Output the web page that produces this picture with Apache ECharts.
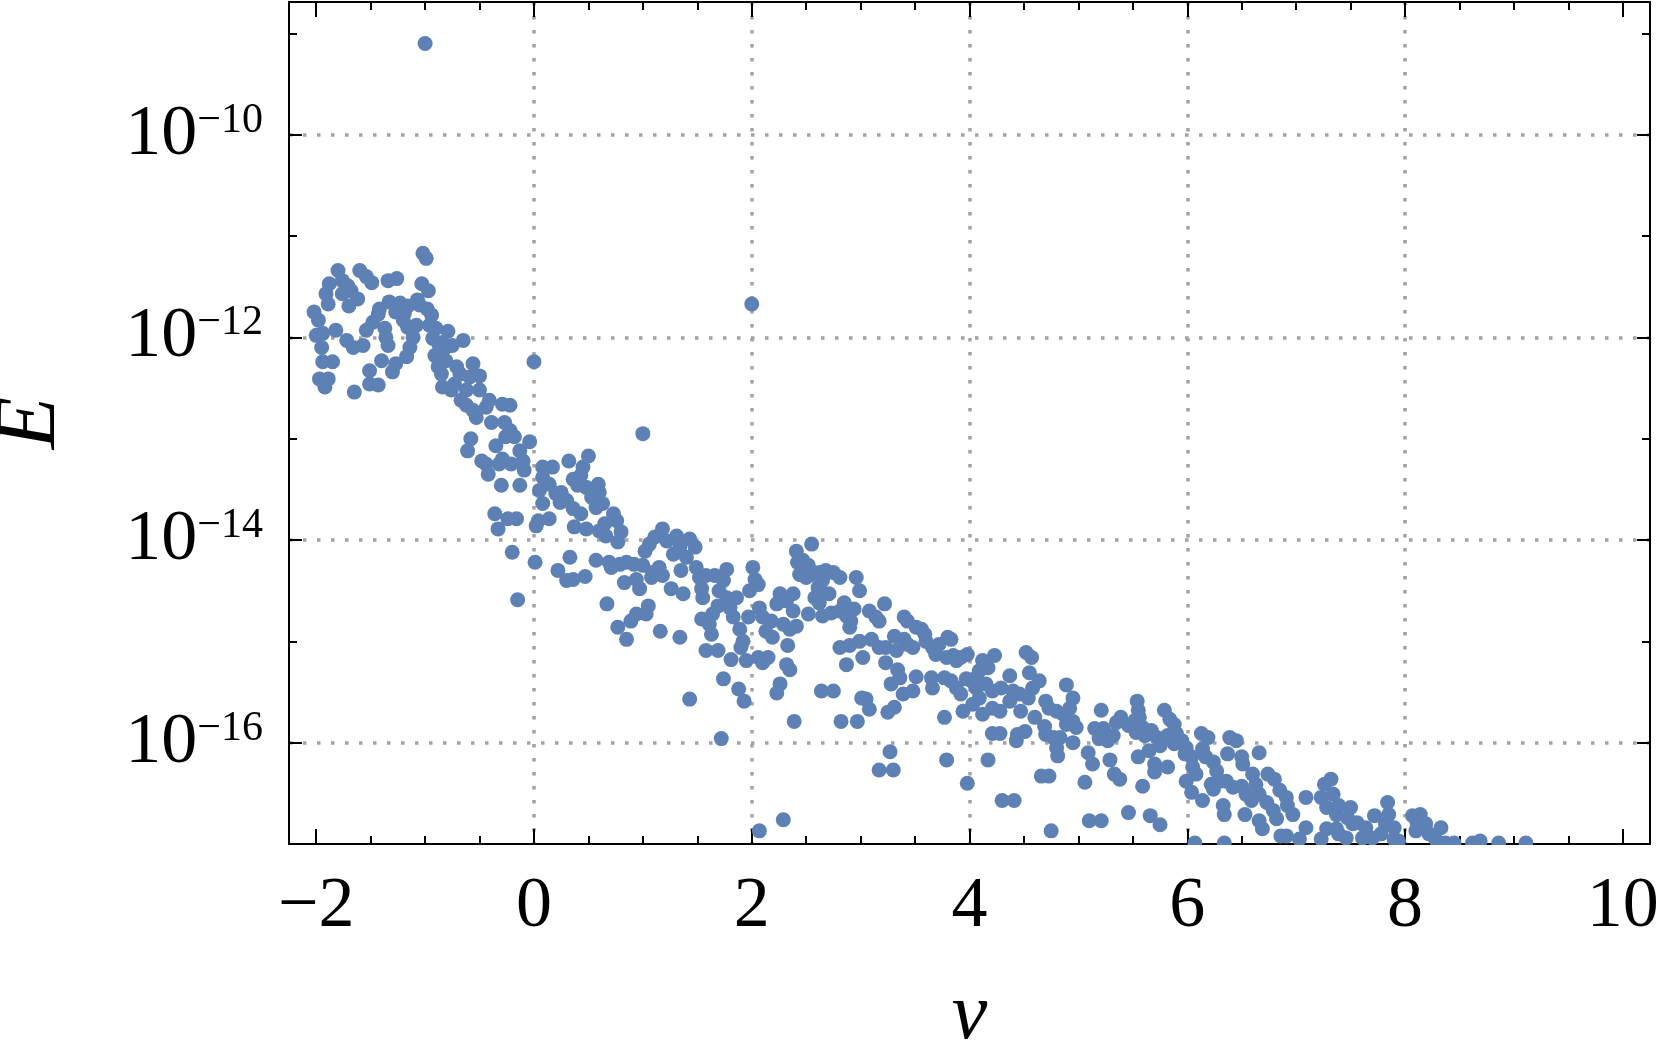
<!DOCTYPE html>
<html>
<head>
<meta charset="utf-8">
<script src="https://cdn.jsdelivr.net/npm/echarts@6/dist/echarts.min.js"></script>
<style>
html,body{margin:0;padding:0;background:#fff;}
#chart{width:1661px;height:1048px;}
</style>
</head>
<body>
<div id="chart"></div>
<script>
// Data: each point is [nu, log10(E)]
const clusterLeft = [
[-1.80,-11.34],[-1.88,-11.47],[-1.91,-11.57],[-1.89,-11.67],[-1.60,-11.34],[-1.54,-11.40],[-1.49,-11.46],[-1.76,-11.44],[-1.71,-11.49],[-1.68,-11.54],
[-1.76,-11.57],[-1.62,-11.62],[-1.70,-11.69],[-1.34,-11.44],[-1.26,-11.42],[-1.02,-11.17],[-0.99,-11.22],[-1.03,-11.47],[-0.97,-11.54],[-2.02,-11.75],
[-1.98,-11.83],[-2.00,-11.98],[-1.94,-11.96],[-1.95,-12.10],[-1.82,-11.93],[-1.72,-12.03],[-1.66,-12.10],[-1.57,-12.08],[-1.54,-11.93],[-1.48,-11.85],
[-1.43,-11.77],[-1.42,-11.72],[-1.33,-11.65],[-1.23,-11.66],[-1.16,-11.69],[-1.19,-11.76],[-1.27,-11.75],[-1.37,-11.91],[-1.36,-12.00],[-1.34,-12.08],
[-1.40,-12.23],[-1.20,-11.83],[-1.16,-11.90],[-1.08,-11.88],[-1.11,-12.00],[-1.14,-12.10],[-1.17,-12.19],[-1.27,-12.26],[-1.30,-12.34],[-1.07,-11.63],
[-1.05,-11.68],[-0.98,-11.72],[-0.94,-11.78],[-0.96,-11.88],[-0.90,-11.91],[-0.79,-11.94],[-1.94,-12.24],[-1.85,-12.24],[-1.97,-12.41],[-1.89,-12.41],
[-1.92,-12.49],[-1.51,-12.33],[-1.51,-12.46],[-1.43,-12.47],[-1.65,-12.54],[-0.93,-12.01],[-0.87,-12.08],[-0.84,-12.05],[-0.81,-12.10],[-0.75,-12.08],
[-0.65,-12.03],[-0.91,-12.18],[-0.87,-12.21],[-0.88,-12.29],[-0.85,-12.36],[-0.81,-12.23],[-0.71,-12.29],[-0.68,-12.36],[-0.56,-12.26],[-0.50,-12.38],
[-0.59,-12.39],[-0.84,-12.49],[-0.76,-12.52],[-0.73,-12.46],[-0.62,-12.52],[-0.50,-12.52],[-0.67,-12.62],[-0.62,-12.67],[-0.56,-12.72],[-0.53,-12.79],
[-0.44,-12.69],[-0.41,-12.62],[-0.39,-12.84],[-0.29,-12.66],[-0.22,-12.67],[-0.27,-12.84],[-0.22,-12.92],[-0.26,-12.98],[-0.18,-12.98],[-0.58,-13.00],
[-0.61,-13.12],[-0.48,-13.22],[-0.44,-13.25],[-0.42,-13.35],[-0.35,-13.07],[-0.32,-13.25],[-0.29,-13.20],[-0.21,-13.25],[-0.10,-13.22],[-0.13,-13.12],
[-0.04,-13.03],[-0.09,-13.31],[-0.30,-13.46],[-0.13,-13.46],[0.08,-13.28],[0.17,-13.28],[0.08,-13.38],[0.14,-13.45],[0.05,-13.51],[0.20,-13.54],
[0.08,-13.64],[-0.36,-13.74],[-0.24,-13.79],[-0.16,-13.79],[-0.33,-13.89],[0.04,-13.81],[0.02,-13.86],[0.14,-13.79],[0.00,-12.24]
];
const band0to2 = [
[0.50,-13.17],[0.32,-13.22],[0.45,-13.28],[0.43,-13.36],[0.36,-13.40],[0.40,-13.46],[0.48,-13.48],[0.59,-13.45],[0.60,-13.53],[0.53,-13.58],
[0.63,-13.64],[0.36,-13.69],[0.43,-13.74],[0.57,-13.68],[0.73,-13.74],[0.76,-13.81],[0.65,-13.84],[0.60,-13.91],[0.66,-13.96],[0.80,-13.92],
[0.77,-14.02],[0.48,-13.89],[0.37,-13.87],[0.25,-13.53],[0.30,-13.61],[0.24,-13.63],[0.01,-14.22],[-0.15,-14.59],[-0.20,-14.12],[0.22,-14.30],
[0.30,-14.40],[0.36,-14.39],[0.47,-14.36],[0.33,-14.17],[0.57,-14.20],[0.69,-14.22],[0.71,-14.27],[0.79,-14.24],[0.85,-14.22],[0.92,-14.24],
[1.00,-14.25],[0.83,-14.42],[0.94,-14.39],[0.97,-14.48],[1.08,-14.37],[1.09,-14.32],[1.15,-14.27],[1.18,-14.35],[1.02,-14.11],[1.06,-14.04],
[1.11,-13.97],[1.18,-13.89],[1.22,-14.01],[1.31,-13.96],[1.34,-14.07],[1.28,-14.14],[1.43,-13.99],[1.48,-14.07],[1.40,-14.17],[1.49,-14.27],
[1.35,-14.30],[1.26,-14.48],[1.37,-14.53],[1.52,-14.37],[1.58,-14.35],[1.66,-14.35],[1.77,-14.29],[1.74,-14.40],[1.70,-14.50],[1.54,-14.48],
[1.55,-14.57],[1.77,-14.57],[1.80,-14.67],[1.86,-14.57],[1.69,-14.65],[1.64,-14.73],[1.54,-14.78],[1.61,-14.83],[1.63,-14.93],[1.83,-14.76],
[1.97,-14.76],[1.89,-14.88],[1.92,-15.00],[1.90,-15.06],[2.01,-14.27],[2.03,-14.39],[2.06,-14.44],[1.98,-14.50],[2.07,-14.67],[2.10,-14.76],
[2.13,-14.90],[2.18,-14.80],[2.19,-14.96],[2.26,-14.53],[2.23,-14.63],[2.32,-14.60],[2.38,-14.53],[2.41,-14.11],[2.42,-14.22],[2.44,-14.34],
[2.38,-14.70],[2.29,-14.83],[2.35,-14.88],[2.41,-14.85],[2.33,-15.04],[2.32,-15.23],[2.35,-15.28],[2.26,-15.42],[2.23,-15.51],[2.39,-15.79],
[0.67,-14.63],[0.77,-14.86],[0.85,-14.98],[0.89,-14.80],[0.94,-14.73],[1.05,-14.65],[1.03,-14.73],[1.16,-14.90],[1.34,-14.96],[1.58,-15.09],
[1.69,-15.09],[1.81,-15.18],[1.95,-15.19],[2.06,-15.16],[2.10,-15.21],[2.15,-15.16],[1.74,-15.37],[1.88,-15.47],[1.93,-15.59],[1.43,-15.57],
[1.72,-15.96]
];
const band2to5 = [
[2.55,-14.04],[2.47,-14.20],[2.52,-14.25],[2.45,-14.34],[2.50,-14.37],[2.56,-14.34],[2.62,-14.32],[2.68,-14.30],[2.75,-14.32],[2.81,-14.37],
[2.65,-14.40],[2.61,-14.47],[2.58,-14.57],[2.62,-14.62],[2.71,-14.53],[2.96,-14.37],[2.99,-14.50],[2.52,-14.73],[2.65,-14.75],[2.73,-14.72],
[2.81,-14.70],[2.87,-14.75],[2.94,-14.68],[2.91,-14.80],[2.90,-14.86],[2.85,-14.62],[3.08,-14.70],[3.14,-14.76],[3.17,-14.80],[3.22,-14.63],
[3.40,-14.76],[3.43,-14.80],[2.81,-15.06],[2.90,-15.04],[2.99,-15.00],[3.10,-14.98],[3.17,-15.06],[3.23,-15.06],[3.02,-15.16],[2.87,-15.23],
[3.23,-15.21],[3.33,-15.09],[3.31,-14.95],[3.40,-14.98],[3.43,-15.03],[3.48,-15.06],[3.51,-14.86],[3.56,-14.88],[3.59,-14.93],[3.60,-15.00],
[3.66,-15.06],[3.72,-15.03],[3.80,-14.96],[3.83,-14.98],[3.69,-15.13],[3.79,-15.16],[3.85,-15.14],[3.88,-15.19],[3.92,-15.16],[3.98,-15.13],
[3.34,-15.28],[3.36,-15.36],[3.28,-15.42],[3.51,-15.35],[3.48,-15.49],[3.39,-15.52],[3.65,-15.36],[3.66,-15.46],[3.77,-15.36],[3.83,-15.39],
[3.88,-15.46],[3.92,-15.52],[3.97,-15.37],[4.02,-15.39],[4.06,-15.36],[4.12,-15.19],[4.23,-15.14],[4.17,-15.26],[4.09,-15.29],[4.52,-15.11],
[4.57,-15.16],[4.55,-15.31],[4.37,-15.34],[4.58,-15.46],[4.64,-15.39],[4.06,-15.46],[4.15,-15.42],[4.21,-15.49],[4.29,-15.46],[4.40,-15.49],
[4.46,-15.52],[4.54,-15.56],[4.09,-15.56],[4.03,-15.62],[3.94,-15.69],[4.12,-15.72],[4.21,-15.66],[4.28,-15.69],[4.37,-15.59],[4.47,-15.69],
[4.60,-15.75],[4.70,-15.59],[4.73,-15.66],[4.80,-15.69],[4.86,-15.72],[4.89,-15.43],[4.95,-15.56],[4.92,-15.66],[4.95,-15.79],[4.89,-15.82],
[4.98,-15.85],[4.69,-15.84],[4.70,-15.92],[4.77,-15.95],[4.83,-15.95],[4.80,-16.05],[4.81,-16.13],[4.95,-16.00],[4.21,-15.91],[4.28,-15.91],
[4.43,-15.98],[4.44,-15.92],[4.51,-15.89],[3.01,-15.56],[3.05,-15.57],[3.08,-15.67],[3.25,-15.70],[3.31,-15.65],[2.64,-15.49],[2.75,-15.49],
[2.82,-15.79],[2.97,-15.79],[3.77,-15.75],[3.27,-16.09],[3.17,-16.27],[3.30,-16.27],[3.79,-16.17],[4.17,-16.17],[3.98,-16.40],[4.30,-16.57],
[4.41,-16.57],[4.66,-16.33],[4.73,-16.33],[4.75,-16.87],[2.29,-16.76]
];
const band5to7 = [
[5.06,-16.39],[5.10,-16.77],[5.21,-16.77],[5.15,-15.86],[5.23,-15.86],[5.21,-15.68],[5.19,-15.96],[5.27,-15.98],[5.32,-15.93],[5.35,-15.80],
[5.39,-15.75],[5.46,-15.83],[5.52,-15.78],[5.54,-15.59],[5.55,-15.68],[5.56,-15.75],[5.59,-15.85],[5.53,-15.90],[5.61,-15.93],[5.67,-15.88],
[5.72,-15.95],[5.75,-16.03],[5.79,-15.68],[5.84,-15.77],[5.88,-15.82],[5.90,-15.91],[5.82,-15.93],[5.88,-16.01],[5.95,-15.98],[5.99,-16.05],
[5.98,-16.11],[6.04,-16.14],[6.05,-16.24],[5.99,-16.38],[6.04,-16.49],[6.14,-16.57],[5.29,-16.17],[5.09,-16.10],[5.13,-16.21],[5.33,-16.31],
[5.38,-16.36],[5.55,-16.14],[5.59,-16.43],[5.65,-16.08],[5.70,-16.21],[5.70,-16.29],[5.82,-16.24],[5.46,-16.69],[5.66,-16.72],[5.75,-16.81],
[6.08,-16.31],[6.13,-15.91],[6.19,-15.95],[6.14,-16.06],[6.17,-16.14],[6.24,-16.19],[6.27,-16.28],[6.30,-16.38],[6.22,-16.41],[6.24,-16.46],
[6.36,-16.38],[6.39,-15.95],[6.45,-15.98],[6.37,-16.11],[6.50,-16.14],[6.51,-16.21],[6.42,-16.44],[6.50,-16.43],[6.54,-16.51],[6.60,-16.31],
[6.63,-16.41],[6.66,-16.10],[6.74,-16.31],[6.80,-16.36],[6.66,-16.51],[6.73,-16.59],[6.79,-16.67],[6.85,-16.47],[6.91,-16.54],[6.92,-16.62],
[6.97,-16.71],[6.59,-16.57],[6.53,-16.71],[6.33,-16.62],[6.34,-16.71],[6.66,-16.77],[6.69,-16.85],[6.82,-16.75],[6.86,-16.92],[6.91,-16.92],
[7.03,-16.95],[7.09,-16.84],[7.09,-16.54],[7.23,-16.54],[7.26,-16.41],[7.32,-16.36],[7.34,-16.51],[7.28,-16.64],[7.37,-16.71],[7.23,-16.95],
[7.28,-16.85],[7.37,-16.85],[6.07,-16.99],[6.34,-16.99]
];
const tail7to9 = [
[7.39,-16.62],[7.50,-16.64],[7.47,-16.74],[7.52,-16.80],[7.56,-16.79],[7.64,-16.84],[7.72,-16.72],[7.84,-16.59],[7.85,-16.71],[7.82,-16.80],
[7.90,-16.84],[7.78,-16.90],[7.90,-16.95],[7.94,-16.97],[7.39,-16.90],[7.46,-16.94],[7.61,-16.94],[7.70,-16.94],[8.07,-16.72],[8.14,-16.71],
[8.11,-16.79],[8.19,-16.80],[8.33,-16.84],[8.10,-16.87],[8.22,-16.90],[8.28,-16.95],[8.37,-16.99],[8.45,-16.99],[8.62,-16.99],[8.69,-16.97],
[8.86,-16.99],[9.11,-16.99]
];
const outliers = [[-1.00,-9.10],[2.00,-11.67],[1.00,-12.95],[2.07,-16.87]];

// Axis ticks / labels
const xLabelValues = [-2, 0, 2, 4, 6, 8, 10];
const xGridValues = [0, 2, 4, 6, 8];
const yLabelExponents = [-16, -14, -12, -10];
const xRange = [-2.25, 10.25];
const yRange = [-17, -8.69];

const points = [].concat(clusterLeft, band0to2, band2to5, band5to7, tail7to9, outliers);

const FONT = '"Liberation Serif", "Times New Roman", serif';
const GRID_COLOR = '#a3a3a3';
const NONE = 'rgba(0,0,0,0)';
const GRID = {left: 289, right: 11, top: 2, bottom: 204};

// split line colours follow tick order: [min edge, -2, 0, 2, 4, 6, 8, 10, max edge]
const xTicksAll = [xRange[0]].concat(xLabelValues, [xRange[1]]);
const xSplitColors = xTicksAll.map(v => xGridValues.indexOf(v) >= 0 ? GRID_COLOR : NONE);
const yTicksAll = [yRange[0]].concat(yLabelExponents, [yRange[1]]);
const ySplitColors = yTicksAll.map(v => yLabelExponents.indexOf(v) >= 0 ? GRID_COLOR : NONE);

const frameLine = {show: true, onZero: false, lineStyle: {color: '#000', width: 2}};
const tickStyle = {color: '#000', width: 2};
const gridDots = {width: 3.5, type: [3.5, 10.5], cap: 'butt'};

function fmtX(v) {
  return xLabelValues.indexOf(v) >= 0 ? String(v).replace('-', '\u2212') : '';
}
function fmtY(v) {
  return yLabelExponents.indexOf(v) >= 0 ? '{b|10}{s|\u2212' + (-v) + '}' : '';
}

const chart = echarts.init(document.getElementById('chart'), null, {renderer: 'canvas'});
chart.setOption({
  animation: false,
  backgroundColor: '#fff',
  grid: Object.assign({containLabel: false, outerBoundsMode: 'none'}, GRID),
  xAxis: [
    {
      type: 'value', position: 'bottom', min: xRange[0], max: xRange[1], splitNumber: 6,
      axisLine: frameLine,
      axisTick: {show: true, inside: true, length: 15, lineStyle: tickStyle},
      minorTick: {show: true, splitNumber: 4, length: 8, lineStyle: tickStyle},
      axisLabel: {show: true, margin: 27, fontFamily: FONT, fontSize: 72, lineHeight: 72, color: '#000', formatter: fmtX},
      splitLine: {show: true, lineStyle: Object.assign({color: xSplitColors}, gridDots)},
      name: '\u03BD', nameLocation: 'middle', nameGap: 133,
      nameTextStyle: {fontFamily: FONT, fontStyle: 'italic', fontSize: 80, lineHeight: 80, color: '#000'}
    },
    {
      type: 'value', position: 'top', min: xRange[0], max: xRange[1], splitNumber: 6,
      axisLine: frameLine,
      axisTick: {show: true, inside: true, length: 15, lineStyle: tickStyle},
      minorTick: {show: true, splitNumber: 4, length: 8, lineStyle: tickStyle},
      axisLabel: {show: false},
      splitLine: {show: false}
    }
  ],
  yAxis: [
    {
      type: 'value', position: 'left', min: yRange[0], max: yRange[1], splitNumber: 4,
      axisLine: frameLine,
      axisTick: {show: true, inside: true, length: 13, lineStyle: tickStyle},
      minorTick: {show: true, splitNumber: 2, length: 8, lineStyle: tickStyle},
      axisLabel: {
        show: true, margin: 26, color: '#000', formatter: fmtY,
        rich: {
          b: {fontFamily: FONT, fontSize: 72, lineHeight: 72, color: '#000'},
          s: {fontFamily: FONT, fontSize: 42, lineHeight: 46, color: '#000', padding: [0, 0, 28, 0]}
        }
      },
      splitLine: {show: true, lineStyle: Object.assign({color: ySplitColors}, gridDots)},
      name: 'E', nameLocation: 'middle', nameGap: 215, nameRotate: 90,
      nameTextStyle: {fontFamily: FONT, fontStyle: 'italic', fontSize: 86, lineHeight: 86, color: '#000'}
    },
    {
      type: 'value', position: 'right', min: yRange[0], max: yRange[1], splitNumber: 4,
      axisLine: frameLine,
      axisTick: {show: true, inside: true, length: 13, lineStyle: tickStyle},
      minorTick: {show: true, splitNumber: 2, length: 8, lineStyle: tickStyle},
      axisLabel: {show: false},
      splitLine: {show: false}
    }
  ],
  graphic: {
    elements: [{
      type: 'rect', silent: true, z: 100,
      shape: {x: GRID.left + 1, y: 1048 - GRID.bottom + 1, width: 1661 - GRID.left - GRID.right - 2, height: 18},
      style: {fill: '#fff'}
    }]
  },
  series: [{
    type: 'scatter', xAxisIndex: 0, yAxisIndex: 0,
    symbol: 'circle', symbolSize: 15,
    itemStyle: {color: '#5e81b5', opacity: 1},
    emphasis: {disabled: true},
    data: points
  }]
});
</script>
</body>
</html>
